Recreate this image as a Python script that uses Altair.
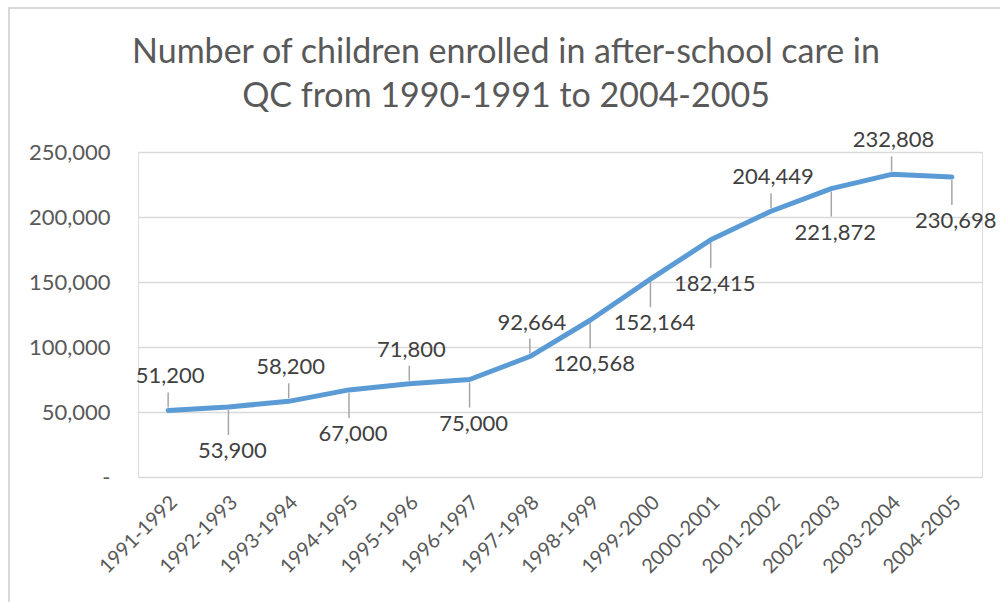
import altair as alt
import pandas as pd

seasons = ["1991-1992", "1992-1993", "1993-1994", "1994-1995", "1995-1996",
           "1996-1997", "1997-1998", "1998-1999", "1999-2000", "2000-2001",
           "2001-2002", "2002-2003", "2003-2004", "2004-2005"]
children = [51200, 53900, 58200, 67000, 71800, 75000, 92664, 120568,
            152164, 182415, 204449, 221872, 232808, 230698]
label_side = ["above", "below", "above", "below", "above", "below", "above",
              "below", "below", "below", "above", "below", "above", "below"]
y_ticks = [0, 50000, 100000, 150000, 200000, 250000]
title_lines = ["Number of children enrolled in after-school care in",
               "QC from 1990-1991 to 2004-2005"]

df = pd.DataFrame({"season": seasons, "children": children, "side": label_side})

FONT = "Lato"
TXT = "#595959"

x = alt.X("season:N", sort=seasons,
          scale=alt.Scale(paddingInner=0, paddingOuter=0),
          axis=alt.Axis(title=None, labelAngle=-45, labelAlign="right",
                        labelBaseline="middle", labelPadding=22, labelOffset=6,
                        ticks=False, domain=False, grid=False, labelFont=FONT,
                        labelFontSize=20, labelColor=TXT))
y = alt.Y("children:Q", scale=alt.Scale(domain=[0, 250000], nice=False),
          axis=alt.Axis(title=None, values=y_ticks, ticks=False, domain=False,
                        labelPadding=28, labelFont=FONT, labelFontSize=22,
                        labelColor=TXT, gridColor="#D9D9D9", gridWidth=1.5,
                        labelExpr="datum.value == 0 ? '-\u00a0\u00a0\u00a0' : format(datum.value, ',')"))

base = alt.Chart(df)
one = base.transform_filter("datum.season == '1991-1992'")

border = one.mark_rect(fill=None, stroke="#D9D9D9", strokeWidth=2).encode(
    x=alt.value(-129), x2=alt.value(900), y=alt.value(-144), y2=alt.value(500)
)

title = one.mark_text(font=FONT, fontSize=34, color=TXT, lineHeight=44,
                      align="center", baseline="alphabetic").encode(
    x=alt.value(368), y=alt.value(-89), text=alt.value(title_lines)
)

line = base.mark_line(color="#5B9BD5", strokeWidth=5, strokeJoin="round",
                      strokeCap="round").encode(x=x, y=y)

above = base.transform_filter("datum.side == 'above'")
below = base.transform_filter("datum.side == 'below'")

lead_above = above.mark_rule(color="#A6A6A6", strokeWidth=1.5,
                             yOffset=-3, y2Offset=-18).encode(
    x=x, y=y, y2="children:Q")
lead_below = below.mark_rule(color="#A6A6A6", strokeWidth=1.5,
                             yOffset=3, y2Offset=28).encode(
    x=x, y=y, y2="children:Q")

text_above = above.mark_text(font=FONT, fontSize=22, color="#404040",
                             baseline="middle", dy=-34, dx=2).encode(
    x=x, y=y, text=alt.Text("children:Q", format=","))
text_below = below.mark_text(font=FONT, fontSize=22, color="#404040",
                             baseline="middle", dy=44, dx=4).encode(
    x=x, y=y, text=alt.Text("children:Q", format=","))

chart = alt.layer(border, title, line, lead_above, lead_below,
                  text_above, text_below).properties(
    width=844, height=325,
    autosize=alt.AutoSizeParams(type="none"),
    padding={"left": 138, "top": 152, "right": 18, "bottom": 125},
).configure_view(stroke=None).configure(background="white")

chart.save("out.html", embed_options={"renderer": "svg", "actions": False})
